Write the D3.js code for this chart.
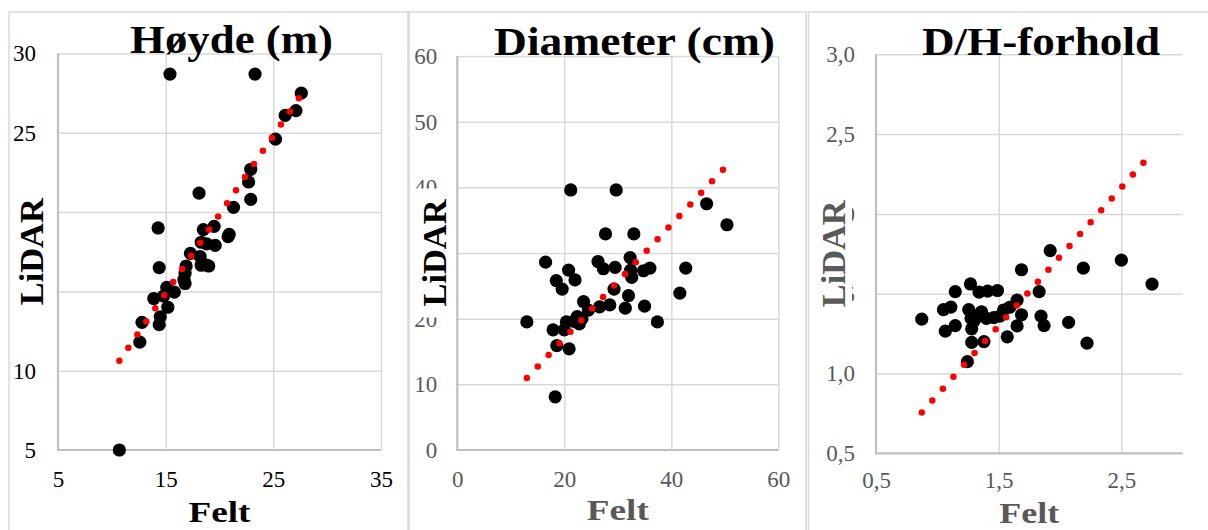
<!DOCTYPE html>
<html>
<head>
<meta charset="utf-8">
<script src="https://cdn.jsdelivr.net/npm/d3@7"></script>
<style>
  body { margin: 0; background: #fff; }
  svg { display: block; }
  text { font-family: "Liberation Serif", "Times New Roman", serif; }
</style>
</head>
<body>
<svg id="chart" width="1208" height="530"></svg>
<script>
// Tree height (m): field measurement vs LiDAR
const hoydeFelt  = [10.7, 12.6, 12.8, 14.4, 14.5, 15.2, 13.9, 14.8, 15.8, 15.1, 16.8, 16.7, 16.8, 16.9, 14.4, 18.3, 19.0, 18.8,
                    17.3, 18.2, 18.3, 18.8, 19.6, 18.5, 19.5, 20.8, 20.9, 14.3, 18.1, 21.3, 22.9, 22.7, 22.9, 25.2, 26.1,
                    27.1, 27.6, 15.4, 23.3];
const hoydeLidar = [ 5.0, 11.8, 13.05, 12.9, 13.4, 14.0, 14.55, 14.7, 14.95, 15.25, 15.5, 15.75, 16.15, 16.6, 16.5, 16.65, 16.6, 16.66,
                    17.4, 17.2, 18.1, 18.0, 17.9, 18.9, 19.1, 18.45, 18.6, 19.0, 21.2, 20.3, 20.8, 21.9, 22.7, 24.6, 26.1,
                    26.4, 27.5, 28.7, 28.7];

// Stem diameter (cm)
const diamFelt  = [21.2, 29.7, 46.6, 50.4, 27.7, 33.0, 16.5, 20.8, 22.0, 18.5, 19.6, 26.3, 27.3, 29.5, 32.3, 32.4, 32.6, 34.8,
                   36.0, 42.7, 29.3, 32.0, 31.4, 35.0, 41.6, 28.5, 26.6, 24.5, 23.6, 22.4, 22.8, 20.4, 20.0, 17.9, 13.0,
                   37.4, 18.6, 20.9, 18.3, 21.8, 23.3];
const diamLidar = [39.6, 39.6, 37.5, 34.3, 32.9, 32.9, 28.6, 27.4, 25.9, 25.8, 24.5, 28.7, 27.6, 27.8, 29.3, 27.4, 26.3, 27.3,
                   27.7, 27.7, 24.5, 23.5, 21.6, 21.9, 23.9, 22.1, 21.8, 21.3, 22.6, 20.3, 19.2, 19.5, 18.3, 18.3, 19.5,
                   19.5, 15.9, 15.4, 8.1, 19.6, 20.0];

// D/H ratio
const dhFelt  = [0.873, 1.05, 1.11, 1.146, 1.27, 1.34, 1.41, 1.49, 1.256, 1.275, 1.36, 1.40, 1.46, 1.51, 1.54, 1.59, 1.65, 1.686,
                 1.65, 1.57, 1.83, 1.845, 1.87, 2.07, 2.22, 2.75, 1.686, 2.19, 2.50, 1.92, 1.065, 1.146, 1.28, 1.28, 1.38,
                 1.245, 1.30, 1.33];
const dhLidar = [1.341, 1.40, 1.416, 1.513, 1.561, 1.51, 1.516, 1.52, 1.40, 1.345, 1.387, 1.346, 1.35, 1.36, 1.398, 1.415, 1.46, 1.368,
                 1.298, 1.23, 1.513, 1.36, 1.30, 1.32, 1.19, 1.56, 1.65, 1.66, 1.71, 1.77, 1.265, 1.30, 1.28, 1.195, 1.20,
                 1.074, 1.33, 1.36];

// Linear trend lines [slope, intercept]
const hoydeTrend = [0.993, 0.0];
const diamTrend  = [0.866, -0.31];
const dhTrend    = [0.866, 0.0];

// Tick values
const hoydeXTicks = [5, 15, 25, 35];
const hoydeYTicks = [5, 10, 15, 20, 25, 30];
const diamXTicks  = [0, 20, 40, 60];
const diamYTicks  = [0, 10, 20, 30, 40, 50, 60];
const dhXTicks    = [0.5, 1.5, 2.5];
const dhYTicks    = [0.5, 1.0, 1.5, 2.0, 2.5, 3.0];

const titles = ["Høyde (m)", "Diameter (cm)", "D/H-forhold"];
const xTitle = "Felt";
const yTitle = "LiDAR";

const commaFmt = d3.formatLocale({ decimal: ",", thousands: " ", grouping: [3], currency: ["", ""] }).format(".1f");

const panels = [
  { frame: [9, 12, 399], plot: { l: 58, r: 381, t: 53.5, b: 450 },
    xDom: [5, 35], yDom: [5, 30], xTicks: hoydeXTicks, yTicks: hoydeYTicks, fmt: d3.format("d"),
    xs: hoydeFelt, ys: hoydeLidar, trend: hoydeTrend,
    title: titles[0], titleX: 231.5, titleY: 53, titleW: 203,
    tickColor: "#000", feltColor: "#000", lidarColor: "#000",
    feltY: 521.5, feltW: 62, lidarX: 43, lidarW: 107, yPad: 22, xPad: 20.5, rightGrid: true },
  { frame: [409, 12, 397], plot: { l: 457.3, r: 778.3, t: 56, b: 450 },
    xDom: [0, 60], yDom: [0, 60], xTicks: diamXTicks, yTicks: diamYTicks, fmt: d3.format("d"),
    xs: diamFelt, ys: diamLidar, trend: diamTrend,
    title: titles[1], titleX: 634.5, titleY: 55, titleW: 281,
    tickColor: "#595959", feltColor: "#595959", lidarColor: "#000",
    feltY: 520, feltW: 62, lidarX: 446, lidarW: 107, yPad: 20, xPad: 20.5, rightGrid: true },
  { frame: [808.5, 12, 402], plot: { l: 876, r: 1182.7, t: 54.3, b: 453.3 },
    xDom: [0.5, 3.0], yDom: [0.5, 3.0], xTicks: dhXTicks, yTicks: dhYTicks, fmt: commaFmt,
    xs: dhFelt, ys: dhLidar, trend: dhTrend,
    title: titles[2], titleX: 1041, titleY: 55, titleW: 238,
    tickColor: "#595959", feltColor: "#595959", lidarColor: "#595959",
    feltY: 523, feltW: 60, lidarX: 845, lidarW: 107, yPad: 21, xPad: 18, rightGrid: false }
];

const svg = d3.select("#chart");
svg.append("rect").attr("width", 1208).attr("height", 530).attr("fill", "#fff");

// outer line seen at the left edge of the third panel
svg.append("line").attr("x1", 806).attr("x2", 806).attr("y1", 12).attr("y2", 530)
  .attr("stroke", "#d9d9d9").attr("stroke-width", 1.2);

panels.forEach(p => {
  const g = svg.append("g");
  const { l, r, t, b } = p.plot;

  // chart frame
  g.append("rect")
    .attr("x", p.frame[0]).attr("y", p.frame[1])
    .attr("width", p.frame[2]).attr("height", 540)
    .attr("fill", "#fff").attr("stroke", "#d9d9d9").attr("stroke-width", 1.5);

  const x = d3.scaleLinear().domain(p.xDom).range([l, r]);
  const y = d3.scaleLinear().domain(p.yDom).range([b, t]);

  // vertical gridlines + x tick labels
  const xAxis = g.append("g").attr("transform", `translate(0,${b})`)
    .call(d3.axisBottom(x).tickValues(p.xTicks).tickFormat(p.fmt)
      .tickSizeInner(-(b - t)).tickSizeOuter(0).tickPadding(p.xPad));
  xAxis.select(".domain").remove();
  xAxis.selectAll(".tick line").attr("stroke", "#d9d9d9").attr("stroke-width", 1.5)
    .filter(d => d === p.xDom[0]).remove();
  xAxis.selectAll(".tick text").attr("fill", p.tickColor)
    .style("font-size", "23px").style("font-family", "'Liberation Serif', serif");

  // horizontal gridlines + y tick labels
  const yAxis = g.append("g").attr("transform", `translate(${l},0)`)
    .call(d3.axisLeft(y).tickValues(p.yTicks).tickFormat(p.fmt)
      .tickSizeInner(-(r - l)).tickSizeOuter(0).tickPadding(p.yPad));
  yAxis.select(".domain").remove();
  yAxis.selectAll(".tick line").attr("stroke", "#d9d9d9").attr("stroke-width", 1.5)
    .filter(d => d === p.yDom[0]).remove();
  yAxis.selectAll(".tick text").attr("fill", p.tickColor)
    .style("font-size", "23px").style("font-family", "'Liberation Serif', serif");

  // axis lines
  g.append("line").attr("x1", l).attr("x2", l).attr("y1", t).attr("y2", b + 1)
    .attr("stroke", "#bfbfbf").attr("stroke-width", 2.2);
  g.append("line").attr("x1", l - 1).attr("x2", r).attr("y1", b).attr("y2", b)
    .attr("stroke", "#bfbfbf").attr("stroke-width", 2.2);

  // y axis title on a white box
  const cy = (t + b) / 2;
  g.append("rect")
    .attr("x", p.lidarX - 33).attr("y", cy - p.lidarW / 2 - 11)
    .attr("width", 40).attr("height", p.lidarW + 22)
    .attr("fill", "#fff");
  g.append("text")
    .attr("transform", `translate(${p.lidarX},${cy}) rotate(-90)`)
    .attr("text-anchor", "middle")
    .attr("font-size", 34).attr("font-weight", "bold")
    .attr("textLength", p.lidarW).attr("lengthAdjust", "spacingAndGlyphs")
    .attr("fill", p.lidarColor)
    .text(yTitle);

  // x axis title
  g.append("text")
    .attr("x", (l + r) / 2).attr("y", p.feltY)
    .attr("text-anchor", "middle")
    .attr("font-size", 30).attr("font-weight", "bold")
    .attr("textLength", p.feltW).attr("lengthAdjust", "spacingAndGlyphs")
    .attr("fill", p.feltColor)
    .text(xTitle);

  // data points
  const pts = p.xs.map((v, i) => [v, p.ys[i]]);
  g.append("g").selectAll("circle").data(pts).join("circle")
    .attr("cx", d => x(d[0])).attr("cy", d => y(d[1]))
    .attr("r", 6.6).attr("fill", "#000");

  // dotted linear trend over the range of the field values
  const [x0, x1] = d3.extent(p.xs);
  const line = d3.line().x(d => x(d)).y(d => y(p.trend[0] * d + p.trend[1]));
  g.append("path").datum([x0, x1]).attr("d", line)
    .attr("fill", "none").attr("stroke", "#ff0000")
    .attr("stroke-width", 6.5).attr("stroke-linecap", "round")
    .attr("stroke-dasharray", "0 15.9");

  // chart title
  g.append("text")
    .attr("x", p.titleX).attr("y", p.titleY)
    .attr("text-anchor", "middle")
    .attr("font-size", 39).attr("font-weight", "bold")
    .attr("textLength", p.titleW).attr("lengthAdjust", "spacingAndGlyphs")
    .attr("fill", "#000")
    .text(p.title);
});
</script>
</body>
</html>
